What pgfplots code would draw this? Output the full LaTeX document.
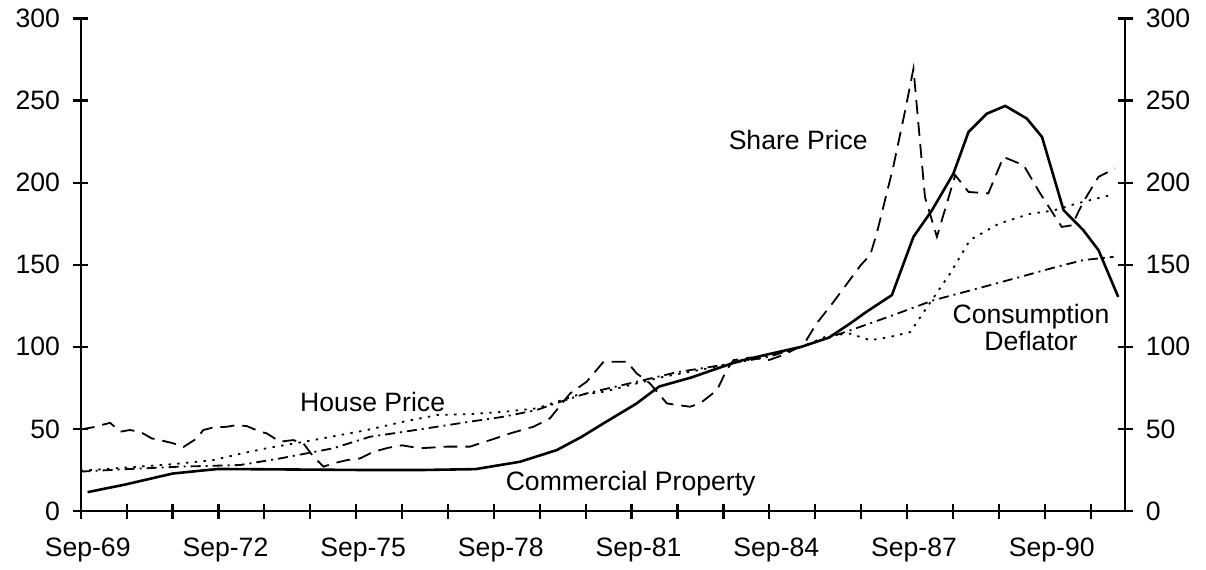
\documentclass[border=0pt]{standalone}
\usepackage{pgfplots}
\pgfplotsset{compat=1.18}
\usepackage{fontspec}
\setmainfont{Liberation Sans}
\begin{document}
\fontsize{13.3pt}{16pt}\selectfont
\begin{tikzpicture}
\useasboundingbox (-40.35pt,-29pt) rectangle (562.65pt,255.5pt);
\pgfplotsset{
  common/.style={
    at={(0pt,0pt)}, anchor=south west,
    scale only axis, width=522.2pt, height=246.3pt,
    xmin=0, xmax=22.75, ymin=0, ymax=300,
    tick align=center, major tick length=7.5pt,
    tick style={line width=1.1pt, black},
    ytick={0,50,...,300},
    /pgf/number format/assume math mode=true,
    ticklabel style={font=\fontsize{13.3pt}{16pt}\selectfont},
  }
}
\begin{axis}[common,
  axis x line*=bottom, axis y line*=left,
  axis line style={-, line width=1.1pt},
  xtick={0,...,22},
  xticklabels={Sep-69,,,Sep-72,,,Sep-75,,,Sep-78,,,Sep-81,,,Sep-84,,,Sep-87,,,Sep-90,,},
  xticklabel style={xshift=3.5pt, yshift=-5pt},
  yticklabel style={xshift=-2pt},
]
% Commercial Property
\addplot[black, line width=1.3pt] coordinates {
(0.15,11.5) (0.95,16) (2.0,22.8) (2.7,24.8) (3.0,25.6) (4.5,25.3) (6.0,25) (7.5,25)
(8.6,25.5) (9.57,30) (10.37,37.1) (10.9,45) (11.39,53.4) (12.11,65.5) (12.6,75.8)
(13.3,81.3) (14.3,91) (15.0,95.6) (15.7,100) (16.3,105.6) (16.76,114.2) (17.1,121)
(17.67,131.5) (18.14,167) (18.54,183) (19.01,205.5) (19.34,230.9) (19.74,242)
(20.14,246.7) (20.61,239) (20.94,227.8) (21.41,183.2) (21.84,171) (22.17,158.9) (22.6,130.4)
};
% Share Price
\addplot[black, line width=0.9pt, dash pattern=on 7pt off 4pt] coordinates {
(0,49.7) (0.27,51) (0.64,53.7) (0.86,48.3) (1.07,49.3) (1.29,48.3) (1.55,44.2) (1.73,43.2)
(2.02,41.2) (2.24,39) (2.53,44.2) (2.67,49.3) (2.89,50.9) (3.18,51.3) (3.4,52.3) (3.62,51.7)
(3.91,48.3) (4.05,47.3) (4.34,42.2) (4.63,43.2) (4.85,41.2) (5.07,33) (5.29,27) (5.5,29)
(5.8,31) (6.08,32) (6.37,36) (6.7,38.5) (7.0,40) (7.39,38.2) (7.97,39.2) (8.48,39.2)
(8.92,43.2) (9.36,47.3) (9.86,51.3) (10.22,56.4) (10.66,71.6) (11.02,78.7) (11.39,90.9)
(11.9,90.9) (12.11,83.8) (12.4,77.7) (12.77,65.5) (13.27,63.5) (13.49,65.5) (13.86,73.6)
(14.07,85.8) (14.22,91.9) (14.6,93.5) (15.0,92) (15.3,95) (15.74,101) (16.03,114.2)
(16.4,127.4) (16.76,141) (17.0,150) (17.2,156) (17.34,169) (17.7,209.6) (17.96,244)
(18.14,269.4) (18.39,191.3) (18.65,167) (19.05,204.5) (19.34,194.3) (19.77,193.4)
(20.1,215.6) (20.54,210.6) (20.9,193.4) (21.37,173) (21.59,174) (21.84,188.3)
(22.17,203.5) (22.53,208.6)
};
% House Price
\addplot[black, line width=0.9pt, dash pattern=on 1.2pt off 3.2pt] coordinates {
(0,24.5) (0.5,25.5) (1.0,26.5) (2.0,28.5) (2.89,31) (3.5,35) (4.05,38.2) (5.07,43.2)
(6.23,49.3) (7.03,54.4) (7.76,58.4) (8.48,59) (9.21,60.4) (9.93,62.5) (10.37,66.5)
(10.8,70.5) (11.39,72.6) (12.11,77.7) (12.69,81.7) (13.5,86) (14.3,90.5) (15.0,95)
(15.7,100) (16.3,107) (16.76,108) (17.2,104) (17.63,106) (18.07,109) (18.54,128.4)
(18.94,144.7) (19.37,165) (20.0,175) (20.68,181) (21.19,183) (21.7,187.3) (22.42,192.3)
};
% Consumption Deflator
\addplot[black, line width=0.9pt, dash pattern=on 5pt off 2.5pt on 1pt off 2.5pt] coordinates {
(0,24) (1.0,25.5) (2.16,27) (3.47,28) (4.34,32) (5.5,38.2) (6.3,45.2) (7.03,48.2)
(7.76,51.3) (8.48,54.4) (9.21,57.4) (9.93,61.5) (10.5,67) (11.0,71.5) (12.0,78)
(13.0,84.6) (14.0,89) (15.0,94) (15.7,100) (16.76,110) (17.7,119.3) (18.58,128.4)
(19.67,136.5) (20.6,143.6) (21.26,148.7) (21.84,152.8) (22.5,154.8)
};
\node at (axis cs:6.36,66.5) {House Price};
\node at (axis cs:11.98,16.4) {Commercial Property};
\node at (axis cs:15.63,225.8) {Share Price};
\node[align=center, inner sep=0pt] at (axis cs:20.7,112) {Consumption\\[-2.5pt]Deflator};
\end{axis}
\begin{axis}[common,
  axis x line=none, axis y line*=right,
  axis line style={-, line width=1.1pt},
  yticklabel style={xshift=2pt},
]
\addplot[draw=none] coordinates {(0,0)};
\end{axis}
\end{tikzpicture}
\end{document}
